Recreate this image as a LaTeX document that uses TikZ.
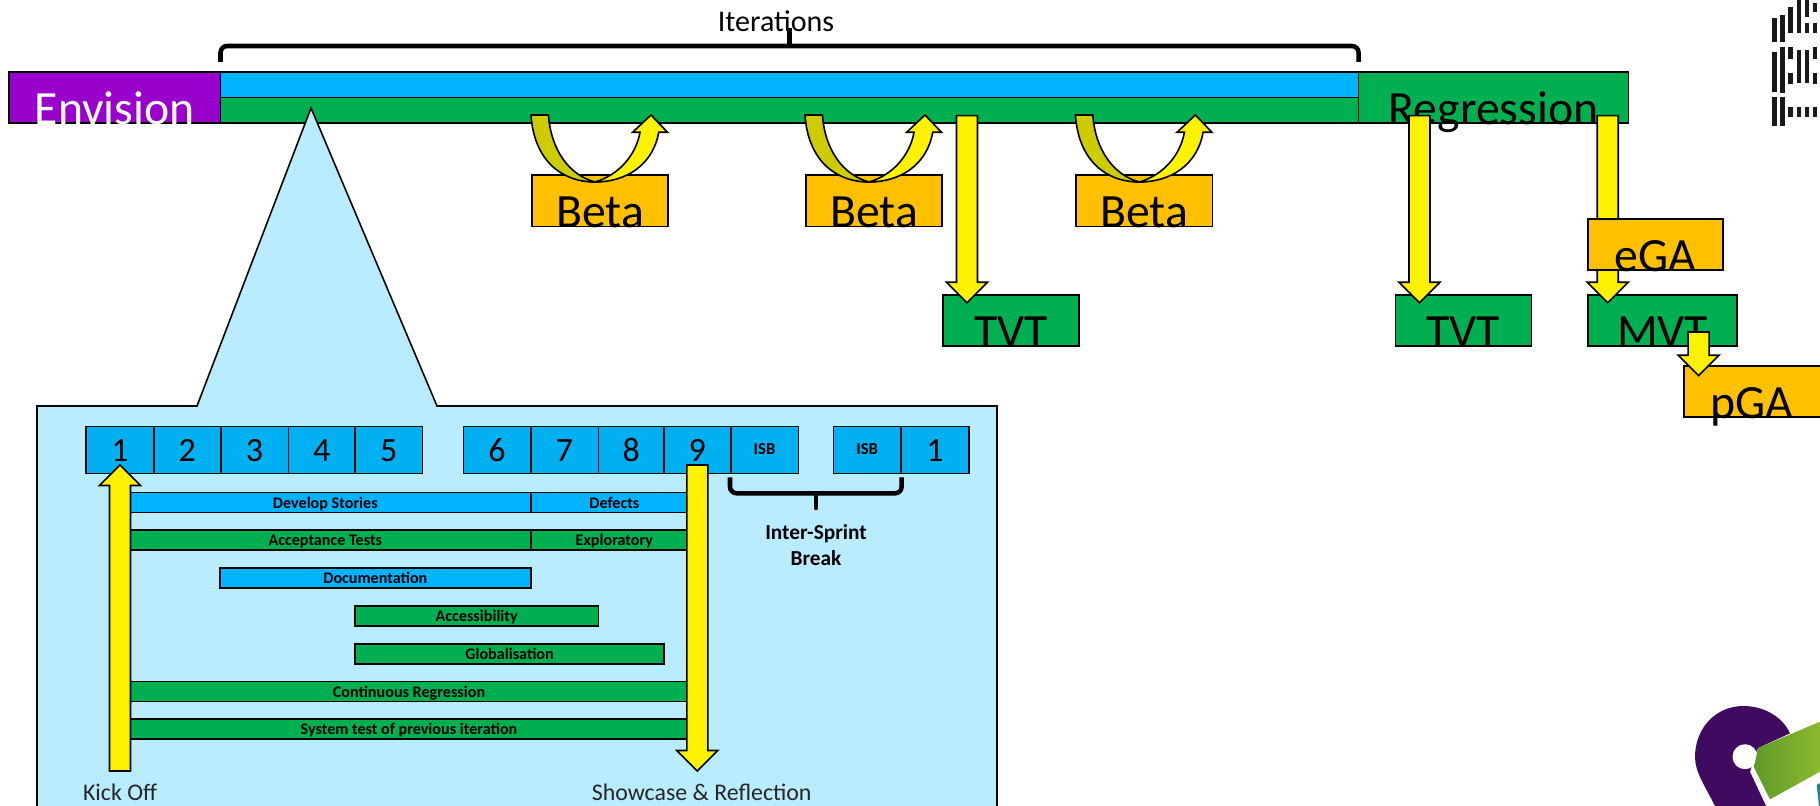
\documentclass[tikz,border=0pt]{standalone}
\usepackage{fontspec}
\setmainfont{Carlito}
\usetikzlibrary{calc}
\definecolor{topblue}{HTML}{00B4FF}
\definecolor{cellblue}{HTML}{00B0F0}
\definecolor{barbreen}{HTML}{00B050}
\definecolor{paleblue}{HTML}{B9ECFF}
\definecolor{envpurple}{HTML}{9900CC}
\definecolor{gaorange}{HTML}{FFC000}
\definecolor{loopolive}{HTML}{CCCC00}
\definecolor{logopurple}{HTML}{3F0A5F}
\definecolor{logogreena}{HTML}{5E9A28}
\definecolor{logogreenb}{HTML}{8DB82F}
\definecolor{logoteal}{HTML}{1A7F9A}
\def\px{0.75pt}
\tikzset{
  box/.style={draw=black,line width=1.2pt,inner sep=0pt,outer sep=0pt,anchor=north west},
  tallbox/.style={box,font=\fontsize{35.8}{40}\selectfont,minimum height=38.4pt,text height=38.2pt,text depth=0.2pt},
  betabox/.style={tallbox,fill=gaorange,minimum width=136.5*\px},
  testbox/.style={tallbox,fill=barbreen},
  cell/.style={box,fill=cellblue,minimum height=47*\px,font=\fontsize{25.5}{30}\selectfont,text height=26pt,text depth=9.25pt},
  isbcell/.style={cell,font=\bfseries\fontsize{12.5}{14}\selectfont,text height=21.2pt,text depth=14.05pt},
  bluebar/.style={box,fill=topblue,minimum height=20*\px,font=\bfseries\fontsize{12.1}{14}\selectfont,text height=11.8pt,text depth=3.2pt},
  greenbar/.style={bluebar,fill=barbreen},
  blockarr/.style={draw=black,line width=1.2pt,fill=yellow,line join=miter},
  bracket/.style={draw=black,line width=3.4pt,rounded corners=5pt},
  caption/.style={anchor=base,inner sep=0pt,text=black!85,font=\fontsize{17.9}{20}\selectfont},
  ibmbar/.style={draw=black!90,line width=3.2pt}
}
% text that sits on the bottom edge of its box
\newcommand{\lowtext}[1]{\raisebox{-1.2pt}{#1}}
% straight block arrow, #1 is 1 going down and -1 going up
\newcommand{\blockarrow}[3][1]{
\draw[blockarr] ($(#2)+(-10.5,0)$) -- ($(#3)+(-10.5,{-(#1)*20.5})$) -- ($(#3)+(-20.5,{-(#1)*20.5})$) -- (#3) -- ($(#3)+(20.5,{-(#1)*20.5})$) -- ($(#3)+(10.5,{-(#1)*20.5})$) -- ($(#2)+(10.5,0)$) -- cycle ;
}
% curved arrow down into a beta box and back up
\newcommand{\betaloop}[1]{
\coordinate (loop) at ($(#1.north west)+(-0.7,-60.1)$);
\draw[blockarr,fill=loopolive] (loop) -- ($(loop)+(17.4,0)$) .. controls ($(loop)+(20,35)$) and ($(loop)+(38,60)$) .. ($(loop)+(64,67)$) .. controls ($(loop)+(30,67)$) and ($(loop)+(3,45)$) .. (loop) -- cycle ;
\draw[blockarr] ($(loop)+(64,67)$) .. controls ($(loop)+(95,67)$) and ($(loop)+(122,50)$) .. ($(loop)+(127.7,17.3)$) -- ($(loop)+(136.5,17.3)$) -- ($(loop)+(120,0)$) -- ($(loop)+(101.6,17.3)$) -- ($(loop)+(109,17.3)$) .. controls ($(loop)+(105,40)$) and ($(loop)+(88,60)$) .. ($(loop)+(64,67)$) -- cycle ;
}
\begin{document}
\begin{tikzpicture}[x=0.75pt,y=0.75pt,yscale=-1,xscale=1]
\useasboundingbox (0,0) rectangle (1820,806);

%Shape: Top Row
\node[tallbox,fill=envpurple,text=white,minimum width=211.5*\px] (envision) at (9,71.8) {\lowtext{Envision}};
\node[box,fill=topblue,minimum width=1138.1*\px,minimum height=26*\px] (iterblue) at (220.5,71.8) {};
\node[box,fill=barbreen,minimum width=1138.1*\px,minimum height=25.3*\px] (itergreen) at (220.5,97.7) {};
\node[testbox,minimum width=269.9*\px] (regression) at (1358.6,71.8) {\lowtext{Regression}};

% Text Node
\node[caption,text=black,font=\fontsize{22.5}{25}\selectfont] (iterlabel) at (776,32) {Iterations};
%Shape: Top Bracket
\coordinate (itera) at ($(iterblue.north west)+(0,-9.8)$);
\coordinate (iterb) at ($(iterblue.north east)+(0,-9.8)$);
\coordinate (iterc) at (789.3,46);
\coordinate (iterd) at (789.3,28);
\draw[bracket] (itera) |- (iterc) -| (iterb);
\draw[bracket] (iterc) -- (iterd);

%Shape: Callout
\draw[line width=1.2pt,fill=paleblue] (37,406) -- (197,406) -- (311,108) -- (437,406) -- (997,406) -- (997,820) -- (37,820) -- cycle ;

%Shape: Beta Boxes
\node[betabox] (betaa) at (531.7,175.1) {\lowtext{Beta}};
\node[betabox] (betab) at (805.7,175.1) {\lowtext{Beta}};
\node[betabox] (betac) at (1076.1,175.1) {\lowtext{Beta}};
\betaloop{betaa}
\betaloop{betab}
\betaloop{betac}

%Shape: Test Boxes
\node[testbox,minimum width=136.5*\px] (tvta) at (942.7,294.8) {\lowtext{TVT}};
\node[testbox,minimum width=136*\px] (tvtb) at (1395.3,294.8) {\lowtext{TVT}};
\node[testbox,minimum width=149.2*\px] (mvt) at (1588,294.8) {\lowtext{MVT}};
\coordinate (tvtafrom) at (967,115.7);
\coordinate (tvtato) at (967,302.7);
\coordinate (tvtbfrom) at (1419.5,115.7);
\coordinate (tvtbto) at (1419.5,302.7);
\coordinate (mvtfrom) at (1607.7,115.7);
\coordinate (mvtto) at (1607.7,302.7);
\blockarrow{tvtafrom}{tvtato}
\blockarrow{tvtbfrom}{tvtbto}
\blockarrow{mvtfrom}{mvtto}
\node[betabox,minimum width=135.2*\px] (ega) at (1588,218.8) {\lowtext{eGA}};
\node[betabox,minimum width=137*\px] (pga) at (1683.7,365.8) {\lowtext{pGA}};
\coordinate (pgafrom) at (1698.6,332);
\coordinate (pgato) at (1698.6,375.7);
\blockarrow{pgafrom}{pgato}

%Shape: Sprint Cells
\node[cell,minimum width=68*\px] (cella) at (86,426.5) {1};
\node[cell,minimum width=66.7*\px] (cellb) at (154,426.5) {2};
\node[cell,minimum width=67.6*\px] (cellc) at (220.7,426.5) {3};
\node[cell,minimum width=66.7*\px] (celld) at (288.3,426.5) {4};
\node[cell,minimum width=67.3*\px] (celle) at (355,426.5) {5};
\node[cell,minimum width=67.4*\px] (cellf) at (463.3,426.5) {6};
\node[cell,minimum width=67.6*\px] (cellg) at (530.7,426.5) {7};
\node[cell,minimum width=65.7*\px] (cellh) at (598.3,426.5) {8};
\node[cell,minimum width=66.7*\px] (celli) at (664,426.5) {9};
\node[isbcell,minimum width=67.6*\px] (isba) at (730.7,426.5) {ISB};
\node[isbcell,minimum width=67.7*\px] (isbb) at (833.3,426.5) {ISB};
\node[cell,minimum width=68*\px] (cellj) at (901,426.5) {1};

%Shape: Activity Bars
\node[bluebar,minimum width=410.7*\px] (develop) at (120,492.4) {Develop Stories};
\node[bluebar,minimum width=167.3*\px] (defects) at (530.7,492.4) {Defects};
\node[greenbar,minimum width=410.7*\px] (accept) at (120,530.2) {Acceptance Tests};
\node[greenbar,minimum width=167.3*\px] (explore) at (530.7,530.2) {Exploratory};
\node[bluebar,minimum width=310.7*\px] (docs) at (220,567.8) {Documentation};
\node[greenbar,minimum width=243.3*\px] (access) at (355,605.8) {Accessibility};
\node[greenbar,minimum width=309*\px] (global) at (355,643.8) {Globalisation};
\node[greenbar,minimum width=578*\px] (regress) at (120,681.5) {Continuous Regression};
\node[greenbar,minimum width=578*\px] (system) at (120,719.1) {System test of previous iteration};

%Shape: Kick Off and Showcase Arrows
\coordinate (kickfrom) at (120,771);
\coordinate (kickto) at (120,465);
\coordinate (showfrom) at (697.3,465);
\coordinate (showto) at (697.3,771);
\blockarrow[-1]{kickfrom}{kickto}
\blockarrow{showfrom}{showto}

%Shape: Break Bracket
\coordinate (isbl) at (730,477.3);
\coordinate (isbr) at (901.7,477.3);
\coordinate (isbm) at (816,493.3);
\coordinate (isbt) at (816,508);
\draw[bracket] (isbl) |- (isbm) -| (isbr);
\draw[bracket,rounded corners=0pt,line cap=round] (isbm) -- (isbt);

% Text Node
\node[caption,text=black,font=\bfseries\fontsize{16}{19.3}\selectfont,align=center] (breaklabel) at (816,565.7) {Inter-Sprint\\Break};
% Text Node
\node[caption] (kicklabel) at (120,800.7) {Kick Off};
% Text Node
\node[caption] (showlabel) at (701.7,800.7) {Showcase \& Reflection};

%Shape: Corner Logo Stripes
\foreach \bx/\ya/\yb in {1774.5/18.3/41.7,1782.5/15/42.3,1790.5/6.7/33.3,1798.7/0/33.3,1806.7/0/16.7,1806.7/23.3/33.3,1814.7/3.3/11.7,1814.7/22.7/33.3,
  1774.5/51.7/91.7,1782.5/46.7/92.7,1790.5/46.7/59.3,1790.5/72.7/84,1798.7/50/83.3,1806.7/50/83.3,1814.7/46.7/59.3,1814.7/72.7/84,
  1774.5/96.7/126,1782.5/96.7/126,1790.5/106.7/117.3,1798.7/106.7/117.3,1806.7/106.7/117.3,1814.7/106.7/117.3}
  \draw[ibmbar] (\bx,\ya) -- (\bx,\yb);

%Shape: Corner Logo Badge
\fill[logopurple] (1790,733.3) .. controls (1782,716) and (1763,706) .. (1743.3,706) .. controls (1716,706) and (1695,728) .. (1695,757) .. controls (1695,772) and (1705,786) .. (1715,806) -- (1766,806) -- (1750,771.7) -- (1758,748) -- cycle ;
\fill[white] (1745,756.7) circle [radius=12.5];
\shade[left color=logogreena,right color=logogreenb] (1758,748) -- (1820,721.7) -- (1820,771.7) -- (1770,799.3) -- (1754,767.3) -- cycle ;
\fill[logoteal] (1816.7,785) -- (1820,783) -- (1820,806) -- (1819,806) -- cycle ;
\end{tikzpicture}
\end{document}
